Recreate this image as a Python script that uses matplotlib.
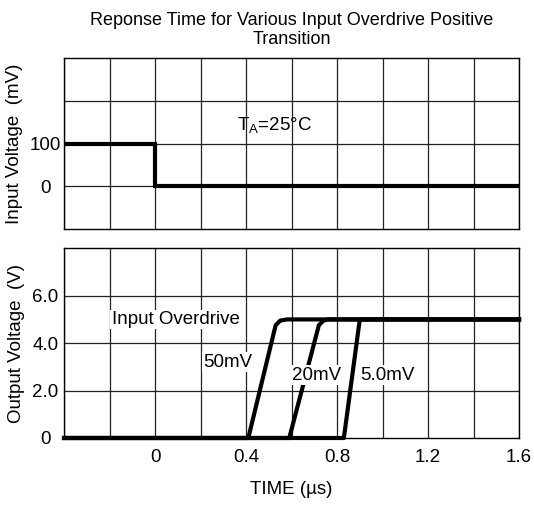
import matplotlib
matplotlib.use("Agg")
import matplotlib.pyplot as plt
import numpy as np

plt.rcParams['font.family'] = ['Liberation Sans', 'DejaVu Sans']

# input step (mV)
t_in = [-0.4, 0.0, 0.0, 1.6]
v_in = [100, 100, 0, 0]

# output responses (V)
t_50 = [-0.4, 0.41, 0.53, 0.55, 0.58, 1.6]
v_50 = [0, 0, 4.75, 4.95, 5.0, 5.0]
t_20 = [-0.4, 0.59, 0.72, 0.74, 0.76, 1.6]
v_20 = [0, 0, 4.75, 4.95, 5.0, 5.0]
t_5 = [-0.4, 0.83, 0.90, 1.6]
v_5 = [0, 0, 5.0, 5.0]

x_ticks = [0, 0.4, 0.8, 1.2, 1.6]
x_grid = np.arange(-0.4, 1.61, 0.2)
in_ticks = [0, 100]
out_ticks = [0, 2, 4, 6]
out_labels = ['0', '2.0', '4.0', '6.0']

FS = 13.5

fig = plt.figure(figsize=(5.34, 5.07), dpi=100)
ax1 = fig.add_axes([0.1199, 0.5483, 0.8521, 0.3373])
ax2 = fig.add_axes([0.1199, 0.1361, 0.8521, 0.3742])

grid_kw = dict(color='#222222', lw=0.9, zorder=1)

# top panel
for x in x_grid:
    ax1.axvline(x, **grid_kw)
for y in [0, 100, 200]:
    ax1.axhline(y, **grid_kw)
ax1.plot(t_in, v_in, color='black', lw=3, zorder=3, solid_joinstyle='miter')
ax1.set_xlim(-0.4, 1.6)
ax1.set_ylim(-100, 300)
ax1.set_xticks([])
ax1.set_yticks(in_ticks)
ax1.set_yticklabels(['0', '100'])
ax1.set_ylabel('Input Voltage  (mV)', fontsize=FS, labelpad=5)
ax1.text(0.524, 142, r'T$_\mathregular{A}$=25°C', fontsize=FS, ha='center', va='center')

# bottom panel
for x in x_grid:
    ax2.axvline(x, **grid_kw)
for y in [2, 4, 6]:
    ax2.axhline(y, **grid_kw)
for t, v in [(t_50, v_50), (t_20, v_20), (t_5, v_5)]:
    ax2.plot(t, v, color='black', lw=3, zorder=3, clip_on=False,
             solid_joinstyle='round')
ax2.set_xlim(-0.4, 1.6)
ax2.set_ylim(0, 8)
ax2.set_xticks(x_ticks)
ax2.set_xticklabels(['0', '0.4', '0.8', '1.2', '1.6'])
ax2.set_yticks(out_ticks)
ax2.set_yticklabels(out_labels)
ax2.set_ylabel('Output Voltage  (V)', fontsize=FS, labelpad=5)
ax2.set_xlabel('TIME (µs)', fontsize=FS, labelpad=11)

# labels sit on white boxes above the grid and the curves
box = dict(facecolor='white', edgecolor='none', pad=1)
ax2.text(0.09, 5.0, 'Input Overdrive', fontsize=FS, ha='center', va='center', bbox=box, zorder=4)
ax2.text(0.318, 3.2, '50mV', fontsize=FS, ha='center', va='center', bbox=box, zorder=4)
ax2.text(0.709, 2.65, '20mV', fontsize=FS, ha='center', va='center', bbox=box, zorder=4)
ax2.text(1.02, 2.65, '5.0mV', fontsize=FS, ha='center', va='center', bbox=box, zorder=4)

for ax in (ax1, ax2):
    ax.tick_params(axis='x', length=0, labelsize=FS, pad=8)
    ax.tick_params(axis='y', length=0, labelsize=FS, pad=13.3)
    for lab in ax.get_yticklabels():
        lab.set_horizontalalignment('center')
    for s in ax.spines.values():
        s.set_color('black')
        s.set_linewidth(1)

fig.text(0.5458, 0.941, 'Reponse Time for Various Input Overdrive Positive\nTransition',
         fontsize=13, ha='center', va='center', linespacing=1.2)

fig.savefig('out.png', dpi=100)
